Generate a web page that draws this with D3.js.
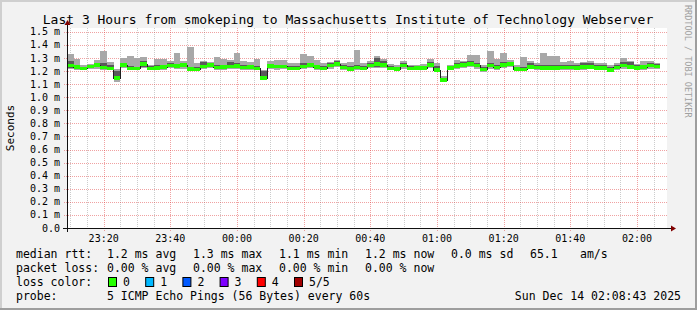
<!DOCTYPE html>
<html>
<head>
<meta charset="utf-8">
<script src="https://cdn.jsdelivr.net/npm/d3@7"></script>
<style>
  body { margin: 0; background: #f2f2f2; }
  svg text { font-family: "DejaVu Sans Mono", monospace; fill: #000; }
</style>
</head>
<body>
<div id="chart"></div>
<script>
// Samples are 2 minute buckets starting at 23:09, values in ms
const startTime = '2025-12-13 23:09';
const endTime = '2025-12-14 02:09';
const stepMinutes = 2;

const median = [1.245, 1.232, 1.222, 1.238, 1.250, 1.230, 1.222, 1.150, 1.250, 1.222,
  1.222, 1.258, 1.222, 1.225, 1.232, 1.245, 1.240, 1.250, 1.220, 1.215,
  1.237, 1.248, 1.228, 1.232, 1.238, 1.242, 1.228, 1.232, 1.222, 1.150,
  1.240, 1.237, 1.237, 1.222, 1.222, 1.237, 1.248, 1.232, 1.224, 1.245,
  1.255, 1.228, 1.220, 1.228, 1.222, 1.245, 1.255, 1.250, 1.222, 1.220,
  1.245, 1.222, 1.225, 1.227, 1.250, 1.212, 1.135, 1.225, 1.240, 1.248,
  1.258, 1.245, 1.215, 1.245, 1.228, 1.250, 1.255, 1.220, 1.215, 1.235,
  1.228, 1.225, 1.225, 1.225, 1.228, 1.230, 1.225, 1.232, 1.235, 1.225,
  1.225, 1.212, 1.228, 1.245, 1.235, 1.225, 1.232, 1.245, 1.237];

// smoke: outer pings (min/max) and inner pings (2nd/4th)
const pingMin = [1.215, 1.212, 1.205, 1.215, 1.220, 1.205, 1.210, 1.120, 1.225, 1.205,
  1.210, 1.225, 1.205, 1.210, 1.210, 1.225, 1.215, 1.220, 1.205, 1.205,
  1.215, 1.225, 1.210, 1.212, 1.215, 1.220, 1.210, 1.210, 1.205, 1.135,
  1.215, 1.212, 1.215, 1.205, 1.210, 1.215, 1.225, 1.212, 1.210, 1.220,
  1.230, 1.210, 1.205, 1.210, 1.205, 1.222, 1.225, 1.225, 1.205, 1.205,
  1.220, 1.208, 1.210, 1.210, 1.225, 1.195, 1.125, 1.205, 1.218, 1.225,
  1.230, 1.220, 1.195, 1.220, 1.210, 1.225, 1.230, 1.205, 1.200, 1.215,
  1.210, 1.210, 1.210, 1.208, 1.210, 1.212, 1.210, 1.212, 1.215, 1.208,
  1.210, 1.200, 1.210, 1.220, 1.215, 1.205, 1.212, 1.220, 1.218];

const pingLo = [1.225, 1.220, 1.215, 1.225, 1.230, 1.220, 1.215, 1.140, 1.235, 1.215,
  1.215, 1.235, 1.215, 1.215, 1.220, 1.235, 1.225, 1.235, 1.210, 1.210,
  1.225, 1.235, 1.218, 1.220, 1.225, 1.230, 1.218, 1.220, 1.215, 1.140,
  1.225, 1.222, 1.225, 1.212, 1.215, 1.225, 1.235, 1.220, 1.215, 1.230,
  1.240, 1.218, 1.212, 1.218, 1.212, 1.232, 1.235, 1.235, 1.212, 1.212,
  1.230, 1.215, 1.215, 1.218, 1.235, 1.200, 1.130, 1.215, 1.228, 1.235,
  1.240, 1.230, 1.205, 1.230, 1.218, 1.235, 1.240, 1.212, 1.208, 1.222,
  1.218, 1.215, 1.215, 1.215, 1.218, 1.220, 1.215, 1.222, 1.225, 1.215,
  1.218, 1.205, 1.218, 1.230, 1.225, 1.215, 1.222, 1.230, 1.225];

const pingHi = [1.275, 1.250, 1.235, 1.250, 1.262, 1.265, 1.245, 1.200, 1.265, 1.240,
  1.235, 1.275, 1.240, 1.245, 1.250, 1.260, 1.255, 1.262, 1.235, 1.235,
  1.268, 1.262, 1.245, 1.250, 1.268, 1.260, 1.245, 1.250, 1.240, 1.200,
  1.255, 1.250, 1.250, 1.240, 1.240, 1.260, 1.265, 1.250, 1.240, 1.260,
  1.275, 1.245, 1.240, 1.245, 1.240, 1.262, 1.300, 1.275, 1.240, 1.235,
  1.260, 1.240, 1.240, 1.240, 1.270, 1.240, 1.150, 1.240, 1.260, 1.270,
  1.275, 1.265, 1.235, 1.265, 1.250, 1.270, 1.270, 1.235, 1.235, 1.260,
  1.245, 1.245, 1.245, 1.245, 1.245, 1.245, 1.245, 1.260, 1.262, 1.245,
  1.245, 1.235, 1.245, 1.270, 1.270, 1.245, 1.250, 1.260, 1.255];

const pingMax = [1.330, 1.290, 1.245, 1.255, 1.285, 1.355, 1.270, 1.215, 1.300, 1.315,
  1.300, 1.310, 1.250, 1.290, 1.295, 1.280, 1.340, 1.275, 1.385, 1.260,
  1.275, 1.270, 1.305, 1.295, 1.285, 1.335, 1.275, 1.270, 1.290, 1.210,
  1.275, 1.285, 1.285, 1.265, 1.262, 1.330, 1.315, 1.285, 1.265, 1.270,
  1.285, 1.260, 1.270, 1.360, 1.260, 1.280, 1.315, 1.290, 1.255, 1.250,
  1.280, 1.250, 1.250, 1.255, 1.290, 1.265, 1.160, 1.245, 1.285, 1.280,
  1.320, 1.320, 1.250, 1.355, 1.295, 1.335, 1.285, 1.245, 1.305, 1.275,
  1.260, 1.335, 1.315, 1.315, 1.270, 1.275, 1.265, 1.270, 1.275, 1.260,
  1.265, 1.245, 1.260, 1.300, 1.280, 1.255, 1.280, 1.280, 1.265];

const yTickValues = [0, 0.1, 0.2, 0.3, 0.4, 0.5, 0.6, 0.7, 0.8, 0.9, 1.0, 1.1, 1.2, 1.3, 1.4, 1.5];
const yTickLabels = ['0.0', '0.1 m', '0.2 m', '0.3 m', '0.4 m', '0.5 m', '0.6 m', '0.7 m',
  '0.8 m', '0.9 m', '1.0 m', '1.1 m', '1.2 m', '1.3 m', '1.4 m', '1.5 m'];
const xTickLabels = ['23:20', '23:40', '00:00', '00:20', '00:40', '01:00', '01:20', '01:40', '02:00'];

const lossLabels = ['0', '1', '2', '3', '4', '5/5'];
const lossColors = ['#26ff00', '#00b8ff', '#0059ff', '#7e00ff', '#ff0000', '#a10000'];

const width = 697;
const height = 310;
const plot = { left: 67, right: 667, top: 28, bottom: 228 };

const parseTime = d3.timeParse('%Y-%m-%d %H:%M');
const t0 = parseTime(startTime);
const t1 = parseTime(endTime);

const x = d3.scaleTime().domain([t0, t1]).range([plot.left, plot.right]);
const y = d3.scaleLinear().domain([0, 1.53]).range([plot.bottom, plot.top]);

const samples = median.map(function (m, i) {
  return {
    t: d3.timeMinute.offset(t0, i * stepMinutes),
    med: m, min: pingMin[i], lo: pingLo[i], hi: pingHi[i], max: pingMax[i]
  };
});
// close the last step so it has width
const last = samples[samples.length - 1];
const stepped = samples.concat([Object.assign({}, last, { t: d3.timeMinute.offset(last.t, stepMinutes) })]);

const svg = d3.select('#chart')
  .append('svg')
  .attr('width', width)
  .attr('height', height);

// background + 3D frame
svg.append('rect').attr('width', width).attr('height', height).attr('fill', '#f2f2f2');
svg.append('rect').attr('x', 0).attr('y', 0).attr('width', width).attr('height', 2).attr('fill', '#cfcfcf');
svg.append('rect').attr('x', 0).attr('y', 0).attr('width', 2).attr('height', height).attr('fill', '#cfcfcf');
svg.append('rect').attr('x', 0).attr('y', height - 2).attr('width', width).attr('height', 2).attr('fill', '#9e9e9e');
svg.append('rect').attr('x', width - 2).attr('y', 0).attr('width', 2).attr('height', height).attr('fill', '#9e9e9e');

// canvas
svg.append('rect')
  .attr('x', plot.left).attr('y', plot.top)
  .attr('width', plot.right - plot.left).attr('height', plot.bottom - plot.top)
  .attr('fill', '#ffffff');

const px = function (v) { return Math.round(v) + 0.5; };

// grid
const minorTimes = x.ticks(d3.timeMinute.every(5)).filter(function (d) { return d.getMinutes() % 20 !== 0; });
const majorTimes = x.ticks(d3.timeMinute.every(20));

const grid = svg.append('g');
grid.selectAll('.minor')
  .data(minorTimes)
  .enter().append('line')
  .attr('x1', function (d) { return px(x(d)); })
  .attr('x2', function (d) { return px(x(d)); })
  .attr('y1', plot.top).attr('y2', plot.bottom + 2)
  .attr('stroke', 'rgba(143,143,143,0.45)')
  .attr('stroke-dasharray', '1,1');

grid.selectAll('.major')
  .data(majorTimes)
  .enter().append('line')
  .attr('x1', function (d) { return px(x(d)); })
  .attr('x2', function (d) { return px(x(d)); })
  .attr('y1', plot.top).attr('y2', plot.bottom + 3)
  .attr('stroke', 'rgba(222,48,48,0.45)')
  .attr('stroke-dasharray', '1,1');

grid.selectAll('.hgrid')
  .data(yTickValues.slice(1))
  .enter().append('line')
  .attr('x1', plot.left - 3).attr('x2', plot.right)
  .attr('y1', function (d) { return px(y(d)); })
  .attr('y2', function (d) { return px(y(d)); })
  .attr('stroke', 'rgba(222,48,48,0.45)')
  .attr('stroke-dasharray', '1,1');

// smoke
const outer = d3.area()
  .curve(d3.curveStepAfter)
  .x(function (d) { return x(d.t); })
  .y0(function (d) { return y(d.min); })
  .y1(function (d) { return y(d.max); });

const inner = d3.area()
  .curve(d3.curveStepAfter)
  .x(function (d) { return x(d.t); })
  .y0(function (d) { return y(d.lo); })
  .y1(function (d) { return y(d.hi); });

svg.append('path').datum(stepped).attr('d', outer).attr('fill', '#a8a8a8').attr('shape-rendering', 'crispEdges');
svg.append('path').datum(stepped).attr('d', inner).attr('fill', '#5a5a5a').attr('shape-rendering', 'crispEdges');

// median line
const medLine = d3.line()
  .curve(d3.curveStepAfter)
  .x(function (d) { return x(d.t); })
  .y(function (d) { return px(y(d.med)); });

svg.append('path').datum(stepped)
  .attr('d', medLine)
  .attr('fill', 'none')
  .attr('stroke', '#202020')
  .attr('stroke-width', 1)
  .attr('shape-rendering', 'crispEdges');

// loss colored median bars (no loss -> green)
svg.append('g').selectAll('rect')
  .data(samples)
  .enter().append('rect')
  .attr('x', function (d) { return x(d.t); })
  .attr('width', function (d) { return x(d3.timeMinute.offset(d.t, stepMinutes)) - x(d.t); })
  .attr('y', function (d) { return y(d.med) - 1.5; })
  .attr('height', 3.5)
  .attr('fill', lossColors[0])
  .attr('shape-rendering', 'crispEdges');

// axes
const axisColor = '#101010';
const arrowColor = '#800000';
svg.append('line')
  .attr('x1', plot.left - 4).attr('x2', plot.right + 4)
  .attr('y1', px(plot.bottom)).attr('y2', px(plot.bottom))
  .attr('stroke', axisColor);
svg.append('line')
  .attr('x1', px(plot.left)).attr('x2', px(plot.left))
  .attr('y1', plot.bottom + 4).attr('y2', plot.top - 4)
  .attr('stroke', axisColor);
svg.append('path')
  .attr('d', 'M' + (plot.right + 4) + ',' + (plot.bottom - 2.5) + 'L' + (plot.right + 9) + ',' + (plot.bottom + 0.5) + 'L' + (plot.right + 4) + ',' + (plot.bottom + 3.5) + 'Z')
  .attr('fill', arrowColor);
svg.append('path')
  .attr('d', 'M' + (plot.left - 2.5) + ',' + (plot.top - 3) + 'L' + (plot.left + 0.5) + ',' + (plot.top - 8) + 'L' + (plot.left + 3.5) + ',' + (plot.top - 3) + 'Z')
  .attr('fill', arrowColor);

// y tick labels
svg.append('g').selectAll('text')
  .data(yTickValues)
  .enter().append('text')
  .attr('x', 60)
  .attr('y', function (d) { return y(d); })
  .attr('dy', '0.35em')
  .attr('text-anchor', 'end')
  .attr('font-size', 10)
  .text(function (d, i) { return yTickLabels[i]; });

// x tick labels
svg.append('g').selectAll('text')
  .data(majorTimes)
  .enter().append('text')
  .attr('x', function (d) { return x(d); })
  .attr('y', 242)
  .attr('text-anchor', 'middle')
  .attr('font-size', 10)
  .text(function (d, i) { return xTickLabels[i]; });

// titles
svg.append('text')
  .attr('x', 348).attr('y', 24)
  .attr('text-anchor', 'middle')
  .attr('font-size', 13)
  .text('Last 3 Hours from smokeping to Massachusetts Institute of Technology Webserver');

svg.append('text')
  .attr('transform', 'translate(14,128) rotate(-90)')
  .attr('text-anchor', 'middle')
  .attr('font-size', 11)
  .text('Seconds');

svg.append('text')
  .attr('transform', 'translate(685,5) rotate(90)')
  .attr('font-size', 8.5)
  .style('fill', '#a0a0a0')
  .text('RRDTOOL / TOBI OETIKER');

// legend
const legendFont = 11.5;
const legend = svg.append('g').attr('font-size', legendFont);
const rows = [258, 272, 286, 300];

const put = function (xPos, row, str, anchor) {
  legend.append('text')
    .attr('x', xPos).attr('y', rows[row])
    .attr('text-anchor', anchor || 'start')
    .attr('xml:space', 'preserve')
    .text(str);
};

put(16, 0, 'median rtt:');
put(107, 0, '1.2 ms avg');
put(193, 0, '1.3 ms max');
put(279, 0, '1.1 ms min');
put(365, 0, '1.2 ms now');
put(451, 0, '0.0 ms sd');
put(530, 0, '65.1');
put(580, 0, 'am/s');

put(16, 1, 'packet loss:');
put(107, 1, '0.00 % avg');
put(193, 1, '0.00 % max');
put(279, 1, '0.00 % min');
put(365, 1, '0.00 % now');

put(16, 2, 'loss color:');
lossLabels.forEach(function (lbl, i) {
  const bx = 108 + i * 37.2;
  legend.append('rect')
    .attr('x', bx + 0.5).attr('y', rows[2] - 8.5)
    .attr('width', 8).attr('height', 9)
    .attr('fill', lossColors[i])
    .attr('stroke', '#000');
  put(bx + 15, 2, lbl);
});

put(16, 3, 'probe:');
put(107, 3, '5 ICMP Echo Pings (56 Bytes) every 60s');
put(681, 3, 'Sun Dec 14 02:08:43 2025', 'end');
</script>
</body>
</html>
